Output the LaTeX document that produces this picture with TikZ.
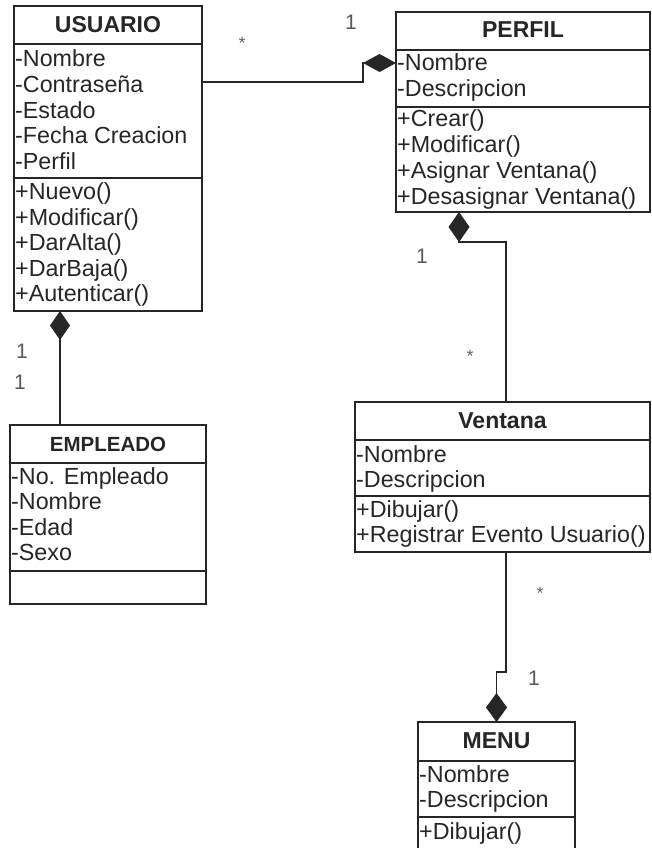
\documentclass[tikz,border=0pt]{standalone}
\usepackage{fontspec}
\setmainfont{Liberation Sans}
\usetikzlibrary{arrows.meta}
\begin{document}
\begin{tikzpicture}[x=1pt,y=-1pt,
  classbox/.style={draw=black!85, line width=1.4pt, fill=white, anchor=north west, inner sep=0pt, outer sep=0pt},
  divider/.style={draw=black!85, line width=1.4pt},
  classtitle/.style={font=\fontsize{23}{25}\selectfont\bfseries, inner sep=0pt, text=black!85},
  rowtext/.style={anchor=base west, inner sep=0pt, font=\fontsize{23.3}{25}\selectfont, text=black!85},
  linkline/.style={draw=black!85, line width=1.2pt},
  mult/.style={font=\fontsize{21}{21}\selectfont, text=black!65, inner sep=0pt},
  star/.style={font=\fontsize{18}{18}\selectfont, text=black!60, inner sep=0pt},
]
\useasboundingbox (0,0) rectangle (652,848);
\clip (0,0) rectangle (652,848);
\fill[white] (0,0) rectangle (652,848);

% ---------- USUARIO ----------
\node[classbox, minimum width=188pt, minimum height=305pt] (usuario) at (14,6) {};
\draw[divider] (usuario.west |- 0,44) -- (usuario.east |- 0,44);
\draw[divider] (usuario.west |- 0,178) -- (usuario.east |- 0,178);
\node[classtitle] (usuario-t) at (usuario.north |- 0,25) {USUARIO};
\foreach \t [count=\i] in {-Nombre,-Contraseña,-Estado,-Fecha Creacion,-Perfil}
  \node[rowtext] (usuario-a\i) at (15,{67+25.5*(\i-1)}) {\t};
\foreach \t [count=\i] in {+Nuevo(),+Modificar(),+DarAlta(),+DarBaja(),+Autenticar()}
  \node[rowtext] (usuario-m\i) at (15,{199.5+25.5*(\i-1)}) {\t};

% ---------- PERFIL ----------
\node[classbox, minimum width=254pt, minimum height=200pt] (perfil) at (396,12) {};
\draw[divider] (perfil.west |- 0,50) -- (perfil.east |- 0,50);
\draw[divider] (perfil.west |- 0,107) -- (perfil.east |- 0,107);
\node[classtitle] (perfil-t) at (perfil.north |- 0,30) {PERFIL};
\foreach \t [count=\i] in {-Nombre,-Descripcion}
  \node[rowtext] (perfil-a\i) at (397,{70.5+26*(\i-1)}) {\t};
\foreach \t [count=\i] in {+Crear(),+Modificar(),+Asignar Ventana(),+Desasignar Ventana()}
  \node[rowtext] (perfil-m\i) at (397,{127+25.7*(\i-1)}) {\t};

% ---------- EMPLEADO ----------
\node[classbox, minimum width=196pt, minimum height=179pt] (empleado) at (10,425) {};
\draw[divider] (empleado.west |- 0,463) -- (empleado.east |- 0,463);
\draw[divider] (empleado.west |- 0,571) -- (empleado.east |- 0,571);
\node[classtitle, font=\fontsize{20.5}{22}\selectfont\bfseries] (empleado-t) at (empleado.north |- 0,444) {EMPLEADO};
\foreach \t [count=\i] in {-No. Empleado,-Nombre,-Edad,-Sexo}
  \node[rowtext] (empleado-a\i) at (11,{484.5+25.3*(\i-1)}) {\t};

% ---------- Ventana ----------
\node[classbox, minimum width=295pt, minimum height=150pt] (ventana) at (355,402) {};
\draw[divider] (ventana.west |- 0,440) -- (ventana.east |- 0,440);
\draw[divider] (ventana.west |- 0,496) -- (ventana.east |- 0,496);
\node[classtitle] (ventana-t) at (ventana.north |- 0,421) {Ventana};
\foreach \t [count=\i] in {-Nombre,-Descripcion}
  \node[rowtext] (ventana-a\i) at (356,{462.5+24.5*(\i-1)}) {\t};
\foreach \t [count=\i] in {+Dibujar(),+Registrar Evento Usuario()}
  \node[rowtext] (ventana-m\i) at (356,{517.5+25*(\i-1)}) {\t};

% ---------- MENU ----------
\node[classbox, minimum width=157pt, minimum height=160pt] (menu) at (418,722) {};
\draw[divider] (menu.west |- 0,761) -- (menu.east |- 0,761);
\draw[divider] (menu.west |- 0,817) -- (menu.east |- 0,817);
\node[classtitle] (menu-t) at (menu.north |- 0,741) {MENU};
\foreach \t [count=\i] in {-Nombre,-Descripcion}
  \node[rowtext] (menu-a\i) at (419,{782.5+25*(\i-1)}) {\t};
\node[rowtext] (menu-m1) at (419,839.5) {+Dibujar()};

% ---------- compositions ----------
\draw[linkline, -{Diamond[length=33pt,width=18pt]}]
  (usuario.east |- 0,82) -| (363,63) -- (perfil.west |- 0,63);
\draw[linkline, -{Diamond[length=30pt,width=21pt]}]
  (ventana.north -| 506,0) |- (459,242) -- (perfil.south -| 459,0);
\draw[linkline, -{Diamond[length=29pt,width=21pt]}]
  (ventana.south -| 506,0) |- (menu.north |- 0,672) -- (menu.north);
\draw[linkline, -{Diamond[length=29pt,width=20pt]}]
  (empleado.north -| 60,0) -- (usuario.south -| 60,0);

% ---------- multiplicities ----------
\node[star] (m1) at (242,43) {*};
\node[mult] (m2) at (351,22) {1};
\node[mult] (m3) at (422,256) {1};
\node[star] (m4) at (470,356) {*};
\node[star] (m5) at (540,593) {*};
\node[mult] (m6) at (534,678) {1};
\node[mult] (m7) at (22,351) {1};
\node[mult] (m8) at (20,382) {1};
\end{tikzpicture}
\end{document}
